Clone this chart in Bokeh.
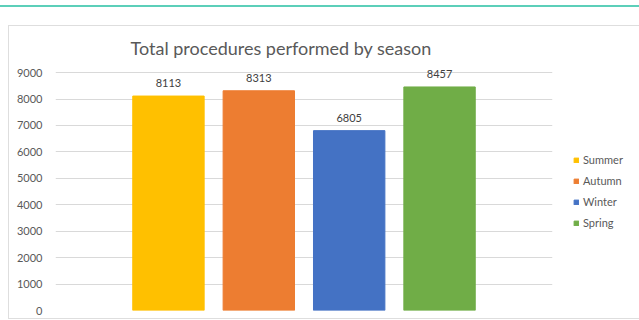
from bokeh.plotting import figure
from bokeh.models import ColumnDataSource, FactorRange, FixedTicker, Legend, LegendItem, Div
from bokeh.layouts import column
from bokeh.embed import file_html
from bokeh.resources import INLINE
from bokeh.core.properties import value

# ---- data ----
seasons = ["Summer", "Autumn", "Winter", "Spring"]
procedures = [8113, 8313, 6805, 8457]
colors = ["#FFC000", "#ED7D31", "#4472C4", "#70AD47"]
y_ticks = [0, 1000, 2000, 3000, 4000, 5000, 6000, 7000, 8000, 9000]
title_text = "Total procedures performed by season"

FONT = "Lato"
GREY = "#595959"

source = ColumnDataSource(dict(
    season=seasons,
    value=procedures,
    color=colors,
    label=[str(v) for v in procedures],
))

p = figure(
    frame_width=495, frame_height=249,
    x_range=FactorRange(*seasons, range_padding=0.75, range_padding_units="absolute"),
    y_range=(0, 9496),
    output_backend="svg", toolbar_location=None,
    min_border_left=46, min_border_right=88, min_border_top=33, min_border_bottom=10,
    margin=(0, 0, 0, 8),
    styles={"border": "1px solid #dedede"},
)

p.title.text = title_text
p.title.align = "left"
p.title.offset = 75
p.title.standoff = 2
p.title.text_font = FONT
p.title.text_font_size = "18px"
p.title.text_font_style = "normal"
p.title.text_color = GREY

bars = p.vbar(x="season", top="value", width=0.79, color="color", source=source)

p.text(x="season", y="value", text="label", source=source,
       text_align="center", text_baseline="bottom", y_offset=-9,
       text_font=value(FONT), text_font_size="11px", text_color="#404040")

p.xaxis.visible = False
p.xgrid.grid_line_color = None
p.ygrid.grid_line_color = "#d9d9d9"
p.ygrid.grid_line_width = 1
p.yaxis.ticker = FixedTicker(ticks=y_ticks)
p.yaxis.axis_line_color = None
p.yaxis.major_tick_line_color = None
p.yaxis.minor_tick_line_color = None
p.yaxis.major_tick_out = 0
p.yaxis.major_label_standoff = 13
p.yaxis.major_label_text_font = FONT
p.yaxis.major_label_text_font_size = "11px"
p.yaxis.major_label_text_color = GREY
p.outline_line_color = None

legend = Legend(
    items=[LegendItem(label=s, renderers=[bars], index=i) for i, s in enumerate(seasons)],
    location=(21, 81),
    padding=0, margin=0, spacing=8,
    glyph_width=6, glyph_height=6, label_height=13, label_standoff=4,
    label_text_font=FONT, label_text_font_size="11px", label_text_color=GREY,
    border_line_color=None, background_fill_alpha=0,
)
p.add_layout(legend, "right")

top_line = Div(text="", width=639, height=2, margin=(5, 0, 18, 0),
               styles={"background-color": "#5ccfb9"})

layout = column(top_line, p, spacing=0)

open("out.html", "w").write(file_html(layout, INLINE))
